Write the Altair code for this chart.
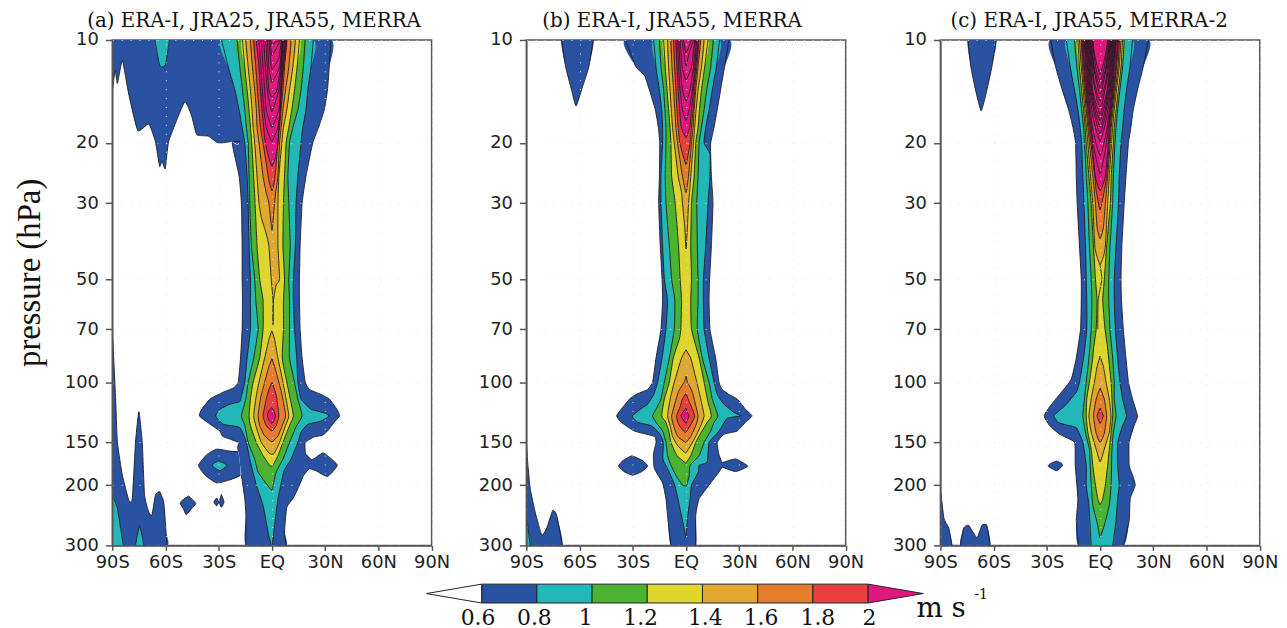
import altair as alt
import pandas as pd

COLORS = {"b": "#2A52A2", "c": "#22B8B8", "g": "#4BB232", "y": "#DFD52F",
          "o": "#DFA830", "r": "#E67D2B", "e": "#E9403F", "m": "#E0177F"}
LINE = "#1c1c1c"
Y_TICKS = [10, 20, 30, 50, 70, 100, 150, 200, 300]
X_TICKS = [-90, -60, -30, 0, 30, 60, 90]
X_NAMES = {-90: "90S", -60: "60S", -30: "30S", 0: "EQ", 30: "30N", 60: "60N", 90: "90N"}
TITLES = ["(a) ERA-I, JRA25, JRA55, MERRA", "(b) ERA-I, JRA55, MERRA", "(c) ERA-I, JRA55, MERRA-2"]
LEVELS = [0.6, 0.8, 1.0, 1.2, 1.4, 1.6, 1.8, 2.0]
LEVEL_LABELS = ["0.6", "0.8", "1", "1.2", "1.4", "1.6", "1.8", "2"]
LABEL_POS = [0.587, 0.791, 0.977, 1.176, 1.41, 1.612, 1.818, 2.005]

# ---------- panel (a): contour edges as (pressure, latitude) ----------
A_ULEFT = [(14.2,-90),(12.25,-88.4),(13.4,-87.1),(11.5,-84.3),(14.5,-80.6),(18.4,-75.6),(17.6,-69.4),(19.8,-65.7),
           (23.4,-63.3),(22.6,-62),(23.8,-60.1),(19.8,-58.2),(15.2,-49.3),(16.7,-45.2),(18.9,-42.4),(19.1,-35.8),
           (20,-30.2),(19.8,-22.8)]
A_LL_B = [(70,-90),(112,-88.1),(150,-87.1),(187,-84.3),(222,-80.6),(219,-78.7),(150,-76.9),(122,-75),(150,-73.1),
          (214,-71.8),(240,-69.4),(244,-67.6),(214,-65.7),(209,-63.3),(224,-61),(274,-59.7),(300,-59.2)]
A_LL_C1 = [(214,-90),(234,-87.1),(300,-83.8)]
A_LL_C2 = [(300,-76.9),(263,-74.6),(300,-72.2)]
A_ISL1 = [(215.2,-47),(222,-50.8),(226.7,-51.7),(234,-50),(244,-48.3),(234,-45.2),(226.7,-42.9),(222,-44.2)]
A_ISL2 = [(218,-31.2),(224,-32.7),(230,-31.2),(224,-30)]
A_ISL3 = [(213,-28.5),(224,-29.7),(232,-28.5),(224,-27)]
A_TOPC = [(10,-66),(11.8,-63.4),(12,-62),(11.8,-60),(10,-57.8)]
A_LBUL = [(160,-19),(159,-23.7),(157,-31.2),(163,-36.8),(175,-41.4),(187,-37.7),(197,-31.2),(193,-23.7),(187,-17.7)]
A_LBUL_C = [(170,-30.2),(173,-33),(176,-33.6),(181.5,-29.3),(176,-25.6),(173,-26.5)]
A_RBUL = [(163,19.2),(168.5,22.6),(161,28.5),(164,31.3),(175,36.9),(188.7,31.3),(181.5,24.8),(179,21.1),(186.7,17.9)]
A_BW = [(10,-18),(19.8,-18),(20,-22.4),(25,-18.5),(30,-17.2),(40,-16.8),(50,-16.8),(57.6,-16.6),(70,-16.8),(85,-17.7),
        (100,-19),(104,-21.8),(107.5,-28.4),(112,-34.9),(120,-39.6),(125.5,-40.9),(131,-36.4),(139,-29.3),(144,-27.8),
        (150,-19),(155,-19.4),(160,-18.8),(187,-17.2),(219,-15.3),(245,-14.7),(300,-14.7)]
A_BE = [(10,33.2),(12,32.3),(14,31.3),(16,29.5),(18,26.3),(20,23),(25,19.2),(30,17),(40,15.9),(50,15.5),(57.6,15.5),
        (70,15.9),(85,17),(100,18.8),(105,21.1),(108.6,27.6),(112,32.3),(120,36.6),(125.5,38.1),(131,35.1),(139,31.3),
        (143,28.5),(144.5,23.9),(150,18.8),(160,18.8),(163,19.2),(186.7,17.9),(204.9,14.6),(219,11.8),(232,8.4),(274,7.1),(300,8)]
A_CW = [(10,-28.4),(12,-24.6),(14,-20.9),(16,-18.5),(18,-16.8),(20,-15.3),(25,-14),(30,-13.4),(40,-12.9),(50,-12.1),
        (57.6,-12.1),(70,-12.1),(85,-14),(100,-15.3),(110,-17.2),(114,-18.1),(116,-23.7),(120,-29.3),(125.5,-31.7),
        (132.8,-27.4),(135.7,-18.1),(150,-14.4),(167.7,-12.5),(200,-8.8),(229,-5),(274,-2.2),(300,-0.4)]
A_CE = [(10,23.3),(12,22),(14,20.2),(16,19.2),(18,17.4),(20,16.4),(25,14.6),(30,13.6),(40,13.2),(50,12.1),(57.6,12.1),
        (70,12.7),(85,14),(100,14.6),(112,16.4),(120,22),(123,29.5),(125.5,32.3),(130,27.6),(132.8,20.2),(140,16.4),
        (150,14.6),(167.7,10.8),(180,7.1),(187,6.2),(219,3.4),(262,1.5),(300,0.2)]
A_GW = [(10,-19.6),(12,-18.1),(14,-16.6),(16,-15.3),(18,-14.4),(20,-13.4),(25,-12.9),(30,-12.5),(40,-11.6),(50,-9.7),
        (57.6,-9.1),(70,-7.8),(85,-10.3),(100,-13.4),(112,-14.7),(125.5,-17.2),(134,-15.3),(150,-13.4),(168,-9.7),
        (183,-7.8),(198,-3.2),(207,0)]
A_GE = [(10,18.7),(12,17.7),(14,16.4),(16,14.6),(18,11.8),(20,9.9),(25,9),(30,9.5),(40,10.3),(50,9.5),(57.6,9.9),(70,9.9),
        (85,9.9),(100,12.7),(112,14.6),(125.5,17),(135,13.6),(150,9.9),(168,6.2),(183,2.4),(198,0.9)]
A_YW = [(10,-16.6),(12,-15.3),(14,-14),(16,-12.9),(18,-12.1),(20,-11.4),(25,-10.3),(30,-9.5),(40,-8.4),(50,-6.9),
        (57.6,-5),(70,-5),(85,-6.9),(100,-10.6),(112,-12.1),(125.5,-12.9),(134,-12.1),(150,-8.8),(164,-5),(175,-1.3),(176,0)]
A_YE = [(10,15.5),(12,14.2),(14,12.7),(16,11.2),(18,9.5),(20,8),(25,7.1),(30,6.5),(40,6.2),(50,7.1),(57.6,6.5),(70,6.5),
        (85,5.8),(100,8.4),(112,10.3),(125.5,12.1),(134,9.9),(150,6.2),(164,3.4),(175,0.6)]
A_OW = [(10,-14.7),(12,-13.4),(14,-12.1),(16,-11.2),(18,-10.6),(20,-9.7),(25,-8.4),(30,-7.3),(33,-6),(36.9,-3.2),(40,-1.7),(50,-0.4),(57.6,0.6),(68,0.6)]
A_OE = [(10,13.2),(12,11.8),(14,9.9),(16,8.4),(18,6.5),(20,5.6),(25,3.9),(30,3.4),(40,3.4),(50,4.3),(52,2.4),(57.6,0.9)]
A_O2W = [(70.7,0),(75,-1.7),(85,-4.1),(100,-7.3),(112,-9.1),(125.5,-10.3),(134,-9.1),(150,-6),(161,-1.7),(162.5,0)]
A_O2E = [(75,1.5),(85,3.4),(100,6.2),(112,8),(125.5,9.5),(134,7.7),(150,4.3),(161,1.5)]
A_RW = [(10,-12.1),(12,-11),(14,-9.7),(16,-8.8),(18,-8.4),(20,-7.3),(25,-5),(28,-3.2),(30,-1.7),(36,0)]
A_RE = [(10,10.8),(12,9.5),(14,7.7),(16,6.2),(18,5.2),(20,4.3),(25,3.4),(28,2.1),(30,1.5)]
A_R2W = [(85.3,0),(90,-1.7),(100,-4.1),(112,-6.5),(125.5,-7.8),(134,-6.9),(143.5,-4.1),(149.4,0)]
A_R2E = [(90,1.5),(100,3.9),(112,6.2),(125.5,7.7),(134,5.8),(143.5,3.4)]
A_EW = [(10,-10.3),(12,-9.1),(14,-8.2),(16,-7.3),(18,-6.5),(20,-5),(23,-3.2),(25.8,-1.7),(27.6,0)]
A_EE = [(10,8.4),(12,7.1),(14,6.2),(16,5.2),(18,4.3),(20,3.4),(23,2.4),(25.8,1.5)]
A_E2W = [(100,0),(105,-1.7),(112,-3.2),(125.5,-5),(134,-3.2),(139,0)]
A_E2E = [(105,1.5),(112,2.8),(125.5,3.9),(134,2.4)]
A_MW = [(10,-8.8),(12,-7.3),(14,-6.5),(16,-5.6),(18,-4.7),(20,-3.7),(22.1,-1.7),(23.4,0)]
A_ME = [(10,8),(12,6.5),(14,5.4),(16,4.7),(18,3.9),(20,3.4),(22.1,2)]
A_M2W = [(118.7,0),(121,-1.7),(125.5,-2.6),(130,-1.3),(132,0)]
A_M2E = [(121,1.1),(125.5,2),(130,0.9)]
A_INNER = [
    ([(10,-7.3),(12,-6.2),(14,-5.4),(16,-4.5),(18,-3.2),(19.8,0)], [(10,7.7),(12,6.2),(14,5.2),(16,4.7),(18,3.4)]),
    ([(10,-6),(12,-5),(14,-4.1),(16,-3.2),(18,0)], [(10,7.1),(12,5.8),(14,4.7),(16,3.9)]),
    ([(10,-4.7),(12,-3.7),(14,-2.6),(16.2,0)], [(10,6.5),(12,5.2),(14,3.9)]),
    ([(10,-3.5),(12,-2.6),(14,-1.7),(14.7,0)], [(10,6.2),(12,4.9),(14,2.8)]),
    ([(10,-2.6),(12,-1.7),(13.3,0)], [(10,5.8),(12,4.3)]),
    ([(10,-1.7),(11.3,-0.9),(12.2,0)], [(10,5.4),(11.3,3.9)]),
    ([(10,-1.1),(11.1,0)], [(10,4.9)]),
    ([(10,-0.6),(10.3,0)], [(10,4.3)]),
]

# ---------- panel (b) ----------
B_TOPI_W = [(10,-70.1),(12,-67.8),(14,-64.5),(15.6,-62)]
B_TOPI_E = [(10,-52.3),(12,-54.8),(14,-58.9)]
B_ISL = [(164,-30.5),(169.5,-35.6),(176,-38),(183,-34.6),(187,-30),(183,-25.3),(176,-21.6),(169.5,-24.4)]
B_TAIL = [(172,20.4),(167.7,27.9),(176,34.8),(182.5,27.9),(177,20.4)]
B_LL = [(150,-90),(175,-89.1),(205,-87.8),(240,-85),(280,-81.3),(267,-78.5),(237,-75.1),(245,-72.9),(300,-69.7)]
B_LLC = [(245,-90),(300,-87.8)]
B_BW = [(10,-34.2),(12,-28.1),(12.7,-23.4),(14,-20.6),(16,-17.3),(18,-15.6),(20,-14.8),(25,-15),(30,-15.4),(40,-14.5),(50,-13.5),
        (57.6,-13.2),(70,-14.1),(85,-16.9),(100,-18.8),(105,-21.6),(108.6,-28.1),(112,-31.8),(120,-36.5),(125.5,-39.1),(131,-36.5),
        (139,-29),(144,-17.8),(150,-16.9),(163,-18.4),(179,-17.8),(197,-13.2),(219,-11.3),(245,-10.4),(300,-8.5)]
B_BE = [(10,24.2),(12,21.7),(14,19.5),(16,17.6),(18,15.8),(20,13.9),(21.5,13.9),(25,14.3),(30,15.2),(40,14.3),(50,13.3),(57.6,13),
        (70,13.5),(85,16.7),(100,18.6),(105,20.4),(108.6,24.2),(112,28.8),(120,33.5),(125.5,37.2),(131,33.5),(139,28.8),(142,21.4),
        (150,17.6),(163,18.6),(172,20.4),(177,20.4),(183,18.6),(200,13),(219,7.4),(245,5.5),(300,5.5)]
B_CW = [(10,-18.2),(12,-16.9),(14,-15),(16,-13.7),(18,-13.2),(20,-13.2),(25,-14.1),(30,-14.1),(40,-13.2),(50,-12.2),(57.6,-10.4),
        (70,-11.3),(85,-13.5),(100,-16),(108.6,-18.2),(116,-21.6),(118.7,-24.4),(125.5,-30.3),(131,-27.2),(134,-19.7),(141,-15),
        (150,-12.8),(167.7,-13),(179,-10.4),(200,-6.3),(229,-3.8),(262,-1.4),(283,0)]
B_CE = [(10,18.9),(12,17.1),(14,14.8),(16,13),(18,11.1),(20,10.2),(21.5,13.5),(25,13.5),(30,12.4),(40,11.1),(50,9.8),(57.6,9.8),
        (70,10.2),(85,13),(100,15.8),(108.6,17.6),(116,21.4),(122.6,27),(125.5,30.7),(127.6,23.2),(139,18.6),(150,13),(171,12),
        (175,7.4),(183,7),(200,3.1),(219,2.3),(250,0.8)]
B_GW = [(10,-15),(12,-14.1),(14,-12.6),(16,-11.9),(18,-11.3),(20,-11.3),(25,-11.7),(30,-11.3),(40,-9.4),(50,-8.1),(57.6,-6.3),
        (70,-6.6),(85,-9.4),(100,-12.2),(112,-14.1),(120,-16.9),(125.5,-18.9),(131,-16.9),(139,-13.2),(150,-11.3),(164,-10.4),
        (175,-8.5),(187,-5.7),(200,-2),(201,0)]
B_GE = [(10,15.4),(12,13.9),(14,11.7),(16,10.2),(18,8.7),(20,7.4),(25,6.8),(30,6.1),(40,6.4),(50,6.8),(57.6,6.8),(70,6.4),(85,9.2),
        (100,13),(112,14.8),(125.5,18),(131,15.8),(139,13.9),(150,10.2),(164,7.4),(175,2.3),(187,1.8),(200,0.5)]
B_YW = [(10,-12.6),(12,-11.7),(14,-10.7),(16,-9.8),(18,-9),(20,-8.5),(25,-8.1),(30,-6.1),(40,-4.2),(50,-3.3),(57.6,-2.5),(70,-2.9),
        (75,-3.8),(85,-7.2),(100,-9.4),(112,-12.2),(125.5,-13.7),(131,-11.3),(141,-9.4),(150,-8.5),(164,-5.1),(171,-1),(172,0)]
B_YE = [(10,12.4),(12,10.5),(14,8.7),(16,7.6),(18,6.8),(20,5.5),(25,4.6),(30,3.1),(40,2.7),(50,3.1),(57.6,2.7),(70,3.1),(85,7.4),
        (100,10.2),(112,12),(125.5,14.3),(131,12),(141,8.3),(150,5.5),(164,2.7)]
B_OW = [(10,-10.4),(12,-9.8),(14,-9),(16,-8.3),(18,-7.6),(20,-6.6),(25,-4.4),(27.9,-2.5),(30,-2),(35.3,-0.7),(40.8,0)]
B_OE = [(10,10.2),(12,8.7),(14,6.8),(16,5.7),(18,4.9),(20,4.2),(25,2.7),(27.9,2),(30,1.4),(35.3,0.8)]
B_O2W = [(80.4,0),(85,-2.5),(100,-6.6),(112,-8.9),(125.5,-10.4),(134,-8.9),(144,-7.6),(153,-4.8),(160,-1),(161,0)]
B_O2E = [(85,2.7),(100,6.1),(112,8.3),(125.5,10.2),(134,8.3),(144,5.5),(153,2.7)]
B_RW = [(10,-8.5),(12,-7.9),(14,-7),(16,-6.3),(18,-5.7),(20,-4.8),(25,-2),(27.9,0)]
B_RE = [(10,8.3),(12,6.8),(14,5.5),(16,4.6),(18,4),(20,3.1),(25,1.4)]
B_R2W = [(96,0),(100,-1),(107,-4.4),(125.5,-8.1),(134,-7),(144,-4.8),(149,-1),(150,0)]
B_R2E = [(100,0.8),(107,3.6),(125.5,6.8),(134,5.5),(144,2.7)]
B_EW = [(10,-7),(12,-6.4),(14,-5.7),(16,-5.1),(18,-4.4),(20,-3.5),(23.1,0)]
B_EE = [(10,7.4),(12,6.1),(14,4.9),(16,4),(18,3.1),(20,2.3)]
B_E2W = [(108,0),(112,-2),(118,-3.3),(125.5,-5.3),(132,-4.4),(139,-1.4),(140,0)]
B_E2E = [(112,1.2),(118,3.1),(125.5,4.9),(132,3.1)]
B_MW = [(10,-5.7),(12,-5.1),(14,-4.4),(16,-3.6),(18,-2.7),(19.3,0)]
B_ME = [(10,6.8),(12,5.5),(14,4.2),(16,3.1),(18,2.1)]
B_M2W = [(119,0),(123,-2),(125.5,-2.9),(130,-1),(132,0)]
B_M2E = [(123,0.8),(125.5,1.8),(130,0.5)]
B_INNER = [
    ([(10,-4.8),(12,-4.2),(14,-3.3),(16,-2),(17.2,0)], [(10,6.1),(12,4.9),(14,3.6),(16,1.8)]),
    ([(10,-4),(12,-3.3),(14,-2),(15.1,0)], [(10,5.5),(12,4.2),(14,2.3)]),
    ([(10,-3.3),(12,-2.1),(13.1,0)], [(10,4.9),(12,3.1)]),
    ([(10,-2.3),(10.8,-1.4),(11.9,0)], [(10,4.2),(10.8,2)]),
    ([(10,-1.4),(10.9,0)], [(10,3.1)]),
]

# ---------- panel (c) ----------
C_TOPI_W = [(10,-74.5),(12,-72.8),(14,-70.2),(16.1,-67)]
C_TOPI_E = [(10,-58.6),(12,-61),(14,-63.8)]
C_ISL = [(170,-24.6),(173,-28),(176,-29.3),(181.5,-24.6),(176,-21.3),(173,-21.5)]
C_LL1 = [(205,-90),(250,-88),(267,-85.3),(300,-83.4)]
C_LL2 = [(300,-78.7),(267,-76.9),(262,-74.1),(285,-69.4),(262,-66.6),(262,-63.8),(300,-62)]
C_BW = [(10,-27.8),(12,-25),(14,-21.3),(16,-17.7),(18,-15.3),(20,-13.8),(25,-13.4),(30,-12.9),(40,-11.6),(50,-10.6),(57.6,-10.6),
        (70,-11),(85,-13.4),(96,-15.7),(100,-17.2),(108.6,-22.8),(118,-28.4),(125.5,-31.5),(134,-28.4),(142,-22.8),(150,-14.4),
        (175,-14),(219,-12.5),(254,-13.4),(300,-12.1)]
C_BE = [(10,27.2),(12,24.3),(14,21.1),(16,18.7),(18,17.4),(20,16),(25,14.6),(30,13.6),(40,12.3),(50,11.8),(57.6,12.1),(70,13.1),
        (85,14.6),(100,16),(112,18.3),(125.5,21.1),(134,19.2),(150,16.4),(175,16.4),(187,18.3),(200,19.8),(219,17),(254,16.4),(300,13.2)]
C_CW = [(10,-19),(12,-16.8),(14,-14.4),(16,-12.5),(18,-11.2),(20,-10.4),(25,-9.7),(30,-9.1),(40,-8.2),(50,-7.8),(57.6,-7.5),(70,-7.5),
        (85,-9.3),(100,-11.6),(107,-13.4),(116,-19),(122,-23.7),(125.5,-26.1),(131,-23.7),(133,-20),(136,-13.4),(150,-9.7),(175,-7.8),
        (200,-7.8),(229,-6.3),(300,-5)]
C_CE = [(10,18.3),(12,16.8),(14,14.9),(16,13.6),(18,12.7),(20,11.8),(25,10.8),(30,10.4),(40,9),(50,8),(57.6,8),(70,8.6),(85,9.9),
        (100,11.2),(112,12.7),(125.5,14.9),(134,12.7),(150,9.9),(175,9.9),(200,10.8),(219,9.9),(254,9),(300,7.1)]
C_GW = [(10,-14.4),(12,-13.1),(14,-11.6),(16,-10.4),(18,-9.3),(20,-8.8),(25,-7.8),(30,-6.9),(40,-6),(50,-5),(57.6,-4.7),(70,-5),
        (85,-6.3),(100,-7.8),(112,-8.8),(125.5,-9.7),(141,-8.2),(157,-6),(175,-5.6),(200,-5),(229,-4.1),(262,-1.3),(284,0)]
C_GE = [(10,13.6),(12,12.7),(14,11.2),(16,9.9),(18,9),(20,8.4),(25,7.5),(30,7.1),(40,5.6),(50,4.9),(57.6,4.9),(70,5.6),(85,7.1),
        (100,8),(112,8),(125.5,9),(140,7.5),(157,6.7),(175,6.5),(200,6.2),(229,5.2),(262,2.4)]
C_YW = [(10,-12.5),(12,-11.6),(14,-10.4),(16,-9.3),(18,-8.4),(20,-7.8),(25,-6.3),(30,-5),(40,-3.7),(50,-2.6),(57.6,-1.7),(70,-2.2),
        (80,-3.7),(85,-4.1),(100,-6),(112,-7.5),(125.5,-7.8),(140,-6.9),(157,-5),(175,-4.1),(200,-2.6),(219,-1.3),(228,0)]
C_YE = [(10,12.7),(12,11.8),(14,10.3),(16,9),(18,8),(20,7.5),(25,6.3),(30,5.8),(40,3.7),(50,2.4),(57.6,1.5),(70,2.8),(80,4.3),
        (100,6.2),(112,6.7),(125.5,7.1),(140,6.2),(157,5.2),(175,4.3),(200,3),(219,1.5)]
C_OW = [(10,-11.6),(12,-10.6),(14,-9.5),(16,-8.6),(18,-7.7),(20,-6.9),(25,-5.4),(30,-4.1),(40,-3),(43,-1.7),(45.4,0)]
C_OE = [(10,11.8),(12,10.8),(14,9.3),(16,8),(18,7.1),(20,6.5),(25,5.2),(30,4.3),(40,3),(43,1.9)]
C_O2W = [(84,0),(90,-1.7),(100,-3.2),(112,-5),(125.5,-6.3),(140,-5),(157,-2.2),(171,0)]
C_O2E = [(90,1.9),(100,3.4),(112,5.2),(125.5,6.2),(140,5.2),(157,2.4)]
C_RW = [(10,-10.6),(12,-9.9),(14,-8.8),(16,-7.8),(18,-6.9),(20,-6),(25,-4.1),(30,-2.6),(35.3,-1.7),(38.1,0)]
C_RE = [(10,11),(12,10.1),(14,8.6),(16,7.3),(18,6.3),(20,5.8),(25,4.3),(30,3),(35.3,1.9)]
C_R2W = [(104,0),(112,-2.2),(125.5,-3.7),(141,-2.2),(150,0)]
C_R2E = [(112,2.4),(125.5,3.7),(141,2.4)]
C_EW = [(10,-10.1),(12,-9.3),(14,-8.2),(16,-7.3),(18,-6.3),(20,-5.2),(25,-3),(27.6,-2.2),(31.4,0)]
C_EE = [(10,10.4),(12,9.3),(14,8),(16,6.7),(18,5.8),(20,5.2),(25,3.7),(27.6,2.4)]
C_E2W = [(119,0),(125.5,-1.7),(132,0)]
C_E2E = [(125.5,1.9)]
C_MW = [(10,-9.5),(12,-8.8),(14,-7.7),(16,-6.7),(18,-5.6),(20,-4.5),(25,-2.8),(27.6,0)]
C_ME = [(10,9.9),(12,8.8),(14,7.5),(16,6.2),(18,5.2),(20,4.7),(25,3)]
C_SLIVER = [(45.4,0),(50,1),(57.6,-1.1),(70,-1.3)]
C_INNER = [
    ([(10,-9),(14,-7.2),(18,-5),(21,-3.2),(24.6,0)], [(10,9.2),(14,7),(18,4.7),(21,3)]),
    ([(10,-8.5),(14,-6.7),(18,-4.3),(20.5,-1.8),(21.8,0)], [(10,8.8),(14,6.5),(18,4),(20.5,1.8)]),
    ([(10,-8),(14,-6.2),(17,-3.8),(19.8,0)], [(10,8.4),(14,6),(17,3.6)]),
    ([(10,-7.6),(14,-5.7),(17,-2.6),(18.8,0)], [(10,8),(14,5.5),(17,2.5)]),
    ([(10,-7.2),(14,-5.2),(16.5,-2.4),(18,0)], [(10,7.6),(14,5),(16.5,2.3)]),
    ([(10,-6.8),(14,-4.7),(16,-2.2),(17.2,0)], [(10,7.2),(14,4.5),(16,2)]),
    ([(10,-6.4),(14,-4.2),(15.5,-2),(16.5,0)], [(10,6.8),(14,4),(15.5,1.9)]),
    ([(10,-6),(13,-4),(15,-1.6),(15.7,0)], [(10,6.4),(13,3.9),(15,1.6)]),
    ([(10,-5.6),(13,-3.5),(14.5,-1.4),(15.1,0)], [(10,6),(13,3.4),(14.5,1.3)]),
    ([(10,-5.2),(12,-3.7),(14,-1),(14.4,0)], [(10,5.6),(12,3.6),(14,1)]),
    ([(10,-4.8),(12,-3.3),(13.8,0)], [(10,5.2),(12,3.2)]),
    ([(10,-4.4),(12,-2.5),(13.2,0)], [(10,4.8),(12,2.4)]),
    ([(10,-4),(11,-3.2),(12.6,0)], [(10,4.4),(11,3.1)]),
]

X_SCALE = alt.Scale(domain=[-90, 90], nice=False, zero=False)
Y_SCALE = alt.Scale(type="log", domain=[10, 300], reverse=True, nice=False)
LABEL_EXPR = "{" + ",".join(f"'{k}':'{v}'" for k, v in X_NAMES.items()) + "}[datum.value]"
TENSION = 0.55


def panel(items, y_title, title, dx):
    """items: list of (color, pts, segments)."""
    ax_x = alt.Axis(values=X_TICKS, labelExpr=LABEL_EXPR, title=None, grid=True, gridColor="#e4e4e4",
                    gridDash=[1, 8], gridWidth=1, domainColor="#555", domainWidth=1.5, tickColor="#555",
                    tickWidth=1.5, tickSize=5, labelFont="DejaVu Sans", labelFontSize=18, labelColor="#222",
                    labelPadding=3, labelAngle=0, labelOverlap=False, zindex=1, labelFlush=False)
    opts = dict(values=Y_TICKS, grid=True, gridColor="#e4e4e4", gridDash=[1, 8], gridWidth=1, domainColor="#555",
                domainWidth=1.5, tickColor="#555", tickWidth=1.5, tickSize=7, labelFont="DejaVu Sans",
                labelFontSize=18, labelColor="#222", labelPadding=7, format="d", labelOverlap=False, zindex=1,
                labelFlush=False)
    if y_title:
        ax_y = alt.Axis(title=y_title, titleFont="Liberation Serif", titleFontSize=33, titleFontWeight="normal",
                        titleColor="#111", titleX=-66, titleY=234, titleAngle=270, **opts)
    else:
        ax_y = alt.Axis(title=None, **opts)
    x = alt.X("lat:Q", scale=X_SCALE, axis=ax_x)
    y = alt.Y("p:Q", scale=Y_SCALE, axis=ax_y)
    layers = []
    seg_rows = []
    seg_id = 0
    for color, pts, segs in items:
        df = pd.DataFrame({"i": range(len(pts)), "p": [q[0] for q in pts], "lat": [q[1] for q in pts]})
        layers.append(alt.Chart(df).mark_line(fill=COLORS[color], strokeOpacity=0, clip=True,
                                              interpolate="cardinal-closed", tension=TENSION)
                      .encode(x=x, y=y, order="i:Q"))
        for s in segs:
            for i, q in enumerate(s):
                seg_rows.append({"seg": seg_id, "i": i, "p": q[0], "lat": q[1]})
            seg_id += 1
    lines = alt.Chart(pd.DataFrame(seg_rows)).mark_line(color=LINE, strokeWidth=0.9, clip=True,
                                                       interpolate="cardinal", tension=TENSION).encode(
        x=x, y=y, detail="seg:N", order="i:Q")
    layers.append(lines)
    return alt.layer(*layers).properties(
        width=321.6, height=509,
        title=alt.TitleParams(title, font="DejaVu Serif", fontSize=20, fontWeight="normal", color="#111", dx=dx,
                              offset=0, anchor="middle"))


def band(color, west, east, skip=()):
    """Closed contour: west edge going down, east edge coming back."""
    pts = list(west) + list(reversed(east))
    segs, cur = [], [pts[0]]
    nw = len(west)
    for k in range(len(pts) - 1):
        a, b = pts[k], pts[k + 1]
        drop = a[0] == b[0] and a[0] in (10, 300)
        side = "w" if k + 1 < nw else "e"
        for s, lo, hi in skip:
            if s == side and lo <= min(a[0], b[0]) and max(a[0], b[0]) <= hi:
                drop = True
        if drop:
            if len(cur) > 1:
                segs.append(cur)
            cur = [b]
        else:
            cur.append(b)
    if len(cur) > 1:
        segs.append(cur)
    if pts[0][0] != pts[-1][0]:
        segs.append([pts[-1], pts[0]])
    return (color, pts, segs)


def island(color, pts):
    return (color, pts, [list(pts) + [pts[0]]])


def hook(color, pts):
    return (color, pts, [list(pts)])


a_items = [
    band("b", A_BW, A_BE, skip=[("w", 10, 19.8), ("w", 160, 187), ("e", 163, 186.7)]),
    ("b", [(10, -90)] + A_ULEFT + [(20, -14.4), (10, -14.4)], [A_ULEFT]),
    ("b", A_LL_B + [(300, -90)], [A_LL_B]),
    ("c", A_LL_C1 + [(300, -90)], [A_LL_C1]),
    hook("c", A_LL_C2),
    island("b", A_ISL1), island("b", A_ISL2), island("b", A_ISL3),
    hook("c", A_TOPC),
    hook("b", A_LBUL), hook("b", A_RBUL),
    island("c", A_LBUL_C),
    band("c", A_CW, A_CE), band("g", A_GW, A_GE), band("y", A_YW, A_YE),
    band("o", A_OW, A_OE), band("o", A_O2W, A_O2E),
    band("r", A_RW, A_RE), band("r", A_R2W, A_R2E),
    band("e", A_EW, A_EE), band("e", A_E2W, A_E2E),
    band("m", A_MW, A_ME), band("m", A_M2W, A_M2E),
] + [band("m", w, e) for w, e in A_INNER]

b_items = [
    band("b", B_BW, B_BE, skip=[("e", 172, 177)]),
    band("b", B_TOPI_W, B_TOPI_E),
    island("b", B_ISL), hook("b", B_TAIL),
    ("b", B_LL + [(300, -90)], [B_LL]),
    ("c", B_LLC + [(300, -90)], [B_LLC]),
    band("c", B_CW, B_CE), band("g", B_GW, B_GE), band("y", B_YW, B_YE),
    band("o", B_OW, B_OE), band("o", B_O2W, B_O2E),
    band("r", B_RW, B_RE), band("r", B_R2W, B_R2E),
    band("e", B_EW, B_EE), band("e", B_E2W, B_E2E),
    band("m", B_MW, B_ME), band("m", B_M2W, B_M2E),
] + [band("m", w, e) for w, e in B_INNER]

c_items = [
    band("b", C_BW, C_BE),
    band("b", C_TOPI_W, C_TOPI_E),
    island("b", C_ISL),
    ("b", C_LL1 + [(300, -90)], [C_LL1]),
    hook("b", C_LL2),
    band("c", C_CW, C_CE), band("g", C_GW, C_GE), band("y", C_YW, C_YE),
    band("o", C_OW, C_OE), band("o", C_O2W, C_O2E),
    ("y", C_SLIVER, [C_SLIVER]),
    band("r", C_RW, C_RE), band("r", C_R2W, C_R2E),
    band("e", C_EW, C_EE), band("e", C_E2W, C_E2E),
    band("m", C_MW, C_ME),
] + [band("m", w, e) for w, e in C_INNER]

pa = panel(a_items, "pressure (hPa)", TITLES[0], -18)
pb = panel(b_items, None, TITLES[1], -14)
pc = panel(c_items, None, TITLES[2], -11)

# ---------- colour bar ----------
BAR_FILL = ["b", "c", "g", "y", "o", "r", "e"]
UNIT_PX = 278.0
lo = 0.6 - 372.0 / UNIT_PX
hi = lo + 1153.3 / UNIT_PX
bx = alt.Scale(domain=[lo, hi], nice=False, zero=False)
by = alt.Scale(domain=[0, 1], nice=False, zero=False)
X0 = alt.X("v:Q", scale=bx, axis=None)
Y0 = alt.Y("w:Q", scale=by, axis=None)
rects = pd.DataFrame({"v": LEVELS[:-1], "v2": LEVELS[1:], "f": [COLORS[k] for k in BAR_FILL], "w": 0.0, "w2": 1.0})
bar_rect = alt.Chart(rects).mark_rect(stroke="#222", strokeWidth=1).encode(
    x=X0, x2="v2:Q", y=Y0, y2="w2:Q", fill=alt.Fill("f:N", scale=None))
left_tri = pd.DataFrame({"i": [0, 1, 2], "v": [0.6, 0.4, 0.6], "w": [0.0, 0.5, 1.0]})
right_tri = pd.DataFrame({"i": [0, 1, 2], "v": [2.0, 2.2, 2.0], "w": [0.0, 0.5, 1.0]})
tri_l = alt.Chart(left_tri).mark_line(fill="#ffffff", color="#222", strokeWidth=1, interpolate="linear-closed").encode(x=X0, y=Y0, order="i:Q")
tri_r = alt.Chart(right_tri).mark_line(fill=COLORS["m"], color="#222", strokeWidth=1, interpolate="linear-closed").encode(x=X0, y=Y0, order="i:Q")
labels = pd.DataFrame({"v": LABEL_POS, "t": LEVEL_LABELS, "w": -0.82})
txt = alt.Chart(labels).mark_text(font="DejaVu Serif", fontSize=22, color="#111").encode(x=X0, y=Y0, text="t:N")
unit1 = alt.Chart(pd.DataFrame({"v": [2.175], "w": [-0.3], "t": ["m s"]})).mark_text(
    font="DejaVu Serif", fontSize=28, align="left", color="#111").encode(x=X0, y=Y0, text="t:N")
unit2 = alt.Chart(pd.DataFrame({"v": [2.385], "w": [0.42], "t": ["-1"]})).mark_text(
    font="DejaVu Serif", fontSize=14, align="left", color="#111").encode(x=X0, y=Y0, text="t:N")
bar = alt.layer(bar_rect, tri_l, tri_r, txt, unit1, unit2).properties(
    width=1153.3, height=19, view=alt.ViewConfig(stroke="transparent"))

top = alt.hconcat(pa, pb, pc, spacing=95, bounds="flush")
chart = alt.vconcat(top, bar, spacing=9).properties(
    padding={"left": 5, "top": 0, "right": 0, "bottom": 0}).configure_view(stroke="#555", strokeWidth=1.5)
chart.save("out.html", embed_options={"renderer": "svg", "actions": False})
